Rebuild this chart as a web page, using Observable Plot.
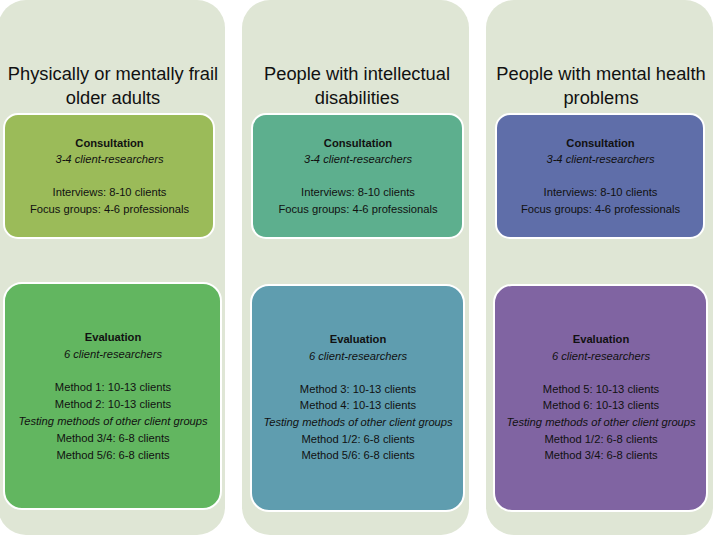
<!DOCTYPE html>
<html>
<head>
<meta charset="utf-8">
<script src="https://cdn.jsdelivr.net/npm/d3@7"></script>
<script src="https://cdn.jsdelivr.net/npm/@observablehq/plot@0.6"></script>
<style>
  html, body { margin: 0; padding: 0; background: #ffffff; }
  #chart { width: 714px; height: 536px; overflow: hidden; }
</style>
</head>
<body>
<div id="chart"></div>
<script>
// ---- Data ----
const groups = [
  "Physically or mentally frail older adults",
  "People with intellectual disabilities",
  "People with mental health problems"
];
const titleLines = [
  "Physically or mentally frail\nolder adults",
  "People with intellectual\ndisabilities",
  "People with mental health\nproblems"
];
const consultColors = ["#9bbb59", "#5daf8e", "#5f6ea9"];
const evalColors = ["#62b660", "#5f9daf", "#8064a2"];

const consultLines = [
  "Consultation",
  "3-4 client-researchers",
  "",
  "Interviews: 8-10 clients",
  "Focus groups: 4-6 professionals"
];
const consultStyles = ["bold", "italic", "", "normal", "normal"];

const evalLinesG1 = ["Evaluation", "6 client-researchers", "", "Method 1: 10-13 clients", "Method 2: 10-13 clients", "Testing methods of other client groups", "Method 3/4: 6-8 clients", "Method 5/6: 6-8 clients"];
const evalLinesG2 = ["Evaluation", "6 client-researchers", "", "Method 3: 10-13 clients", "Method 4: 10-13 clients", "Testing methods of other client groups", "Method 1/2: 6-8 clients", "Method 5/6: 6-8 clients"];
const evalLinesG3 = ["Evaluation", "6 client-researchers", "", "Method 5: 10-13 clients", "Method 6: 10-13 clients", "Testing methods of other client groups", "Method 1/2: 6-8 clients", "Method 3/4: 6-8 clients"];
const evalStyles = ["bold", "italic", "", "normal", "normal", "italic", "normal", "normal"];

// ---- Layout (structural, not data) ----
const W = 714, H = 536;
const L = {
  panelTop: 0, panelBottom: 535, panelR: 28,
  consultTop: 114, consultBottom: 238, consultR: 14,
  evalTop: [283, 285, 285], evalBottom: [509, 511, 511], evalR: 18,
  titleY: 83.5,
  consultFirst: 143, consultStep: 16.4,
  evalFirst: [337, 339, 339], evalStep: [16.8, 16.6, 16.6],
  consultInset: [[6, 11], [10, 6], [10, 9]],
  evalInset: [[6, 4], [9, 5], [8, 6]]
};

const font = "Liberation Sans, Arial, Helvetica, sans-serif";
const marks = [];

const panels = groups.map((g, i) => ({group: g, title: titleLines[i]}));
marks.push(Plot.barY(panels, {x: "group", y1: () => L.panelTop, y2: () => L.panelBottom, fill: "#dfe6d5", rx: L.panelR}));

const evalLinesAll = [evalLinesG1, evalLinesG2, evalLinesG3];

groups.forEach((g, gi) => {
  const [cl, cr] = L.consultInset[gi];
  const [el, er] = L.evalInset[gi];
  marks.push(Plot.barY([{group: g, color: consultColors[gi]}], {
    x: "group", y1: () => L.consultTop, y2: () => L.consultBottom,
    fill: "color", stroke: "#ffffff", strokeWidth: 2, rx: L.consultR, insetLeft: cl, insetRight: cr
  }));
  marks.push(Plot.barY([{group: g, color: evalColors[gi]}], {
    x: "group", y1: () => L.evalTop[gi], y2: () => L.evalBottom[gi],
    fill: "color", stroke: "#ffffff", strokeWidth: 2, rx: L.evalR, insetLeft: el, insetRight: er
  }));

  const rows = [];
  consultLines.forEach((t, i) => { if (t) rows.push({group: g, box: "consult", i, text: t, style: consultStyles[i]}); });
  evalLinesAll[gi].forEach((t, i) => { if (t) rows.push({group: g, box: "eval", i, text: t, style: evalStyles[i]}); });

  const rowY = d => d.box === "consult" ? L.consultFirst + d.i * L.consultStep : L.evalFirst[gi] + d.i * L.evalStep[gi];
  const rowDx = d => 0;
  const dxC = (cl - cr) / 2, dxE = (el - er) / 2;
  for (const box of ["consult", "eval"]) {
    const dx = box === "consult" ? dxC : dxE;
    const common = {x: "group", y: rowY, text: "text", fontSize: 11.2, fill: "#111", fontFamily: font, lineAnchor: "middle", dx};
    const sub = rows.filter(d => d.box === box);
    marks.push(Plot.text(sub.filter(d => d.style === "bold"), {...common, fontWeight: "bold"}));
    marks.push(Plot.text(sub.filter(d => d.style === "italic"), {...common, fontStyle: "italic"}));
    marks.push(Plot.text(sub.filter(d => d.style === "normal"), {...common}));
  }
});

marks.push(Plot.text(panels, {x: "group", y: () => L.titleY, text: "title", fontSize: 18.3, lineHeight: 1.35, fill: "#111", fontFamily: font, lineAnchor: "middle", dx: 1}));

const chart = Plot.plot({
  width: W, height: H,
  marginTop: 0, marginRight: 0, marginBottom: 0, marginLeft: 0,
  style: {background: "#ffffff", fontFamily: font},
  x: {type: "band", domain: groups, range: [-2, 713], paddingInner: 0.07, paddingOuter: 0, axis: null},
  y: {type: "linear", domain: [0, H], range: [0, H], axis: null},
  marks
});
document.getElementById("chart").appendChild(chart);
</script>
</body>
</html>
